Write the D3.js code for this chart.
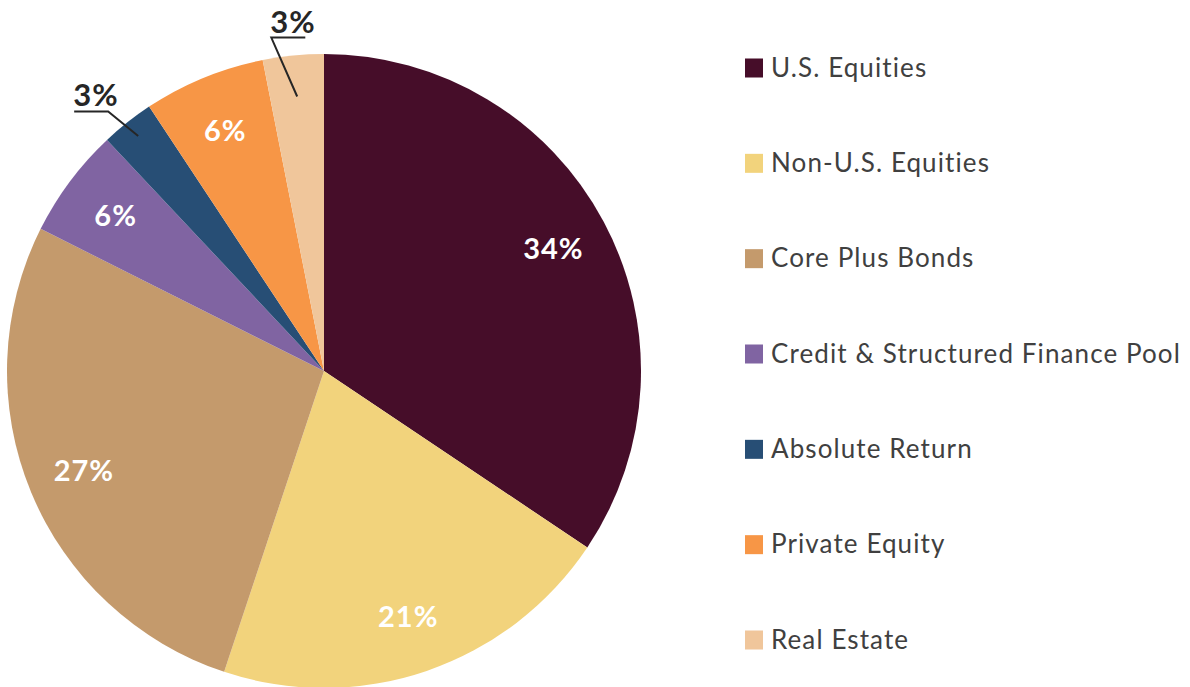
<!DOCTYPE html>
<html>
<head>
<meta charset="utf-8">
<script src="https://cdn.jsdelivr.net/npm/d3@7"></script>
<style>
  body { margin: 0; background: #fff; }
  svg { display: block; }
</style>
</head>
<body>
<svg id="chart" width="1190" height="687"></svg>
<script>
// slices, clockwise from 12 o'clock
const categories = ["U.S. Equities", "Non-U.S. Equities", "Core Plus Bonds",
  "Credit & Structured Finance Pool", "Absolute Return", "Private Equity", "Real Estate"];
const shares = [34.4, 20.7, 27.3, 5.6, 2.7, 6.2, 3.1];
const colors = ["#460d29", "#f2d37c", "#c49a6c", "#8064a2", "#274e75", "#f79646", "#f0c69b"];

// labels that sit outside the pie with a leader line
const outside = {"Absolute Return": {shift: -1.4, dir: -1}, "Real Estate": {shift: -3.4, dir: 1}};

const width = 1190, height = 687;
const cx = 324, cy = 371, radius = 317;

const svg = d3.select("#chart");
const g = svg.append("g").attr("transform", `translate(${cx},${cy})`);

const data = categories.map((c, i) => ({name: c, value: shares[i], color: colors[i]}));

const pie = d3.pie().sort(null).value(d => d.value);
const arcs = pie(data);
const arc = d3.arc().innerRadius(0).outerRadius(radius);

g.selectAll("path.slice")
  .data(arcs)
  .join("path")
  .attr("class", "slice")
  .attr("d", arc)
  .attr("fill", d => d.data.color);

const polar = (ang, r) => [Math.sin(ang) * r, -Math.cos(ang) * r];
const fmt = v => Math.round(v) + "%";

// inside labels
const labelArc = d3.arc().innerRadius(radius * 0.82).outerRadius(radius * 0.82);
g.selectAll("text.inside")
  .data(arcs.filter(d => !outside[d.data.name]))
  .join("text")
  .attr("class", "inside")
  .attr("transform", d => `translate(${labelArc.centroid(d)})`)
  .attr("text-anchor", "middle")
  .attr("dy", "0.36em")
  .attr("fill", "#fff")
  .attr("font-family", "Lato, 'Open Sans', sans-serif")
  .attr("font-weight", 700)
  .attr("font-size", 29)
  .attr("letter-spacing", 1)
  .text(d => fmt(d.data.value));

// outside labels with leader lines
arcs.filter(d => outside[d.data.name]).forEach(d => {
  const o = outside[d.data.name];
  const mid = (d.startAngle + d.endAngle) / 2;
  const p0 = polar(mid, radius * (o.dir < 0 ? 0.945 : 0.87));
  const p1 = polar(mid + o.shift * Math.PI / 180, radius * 1.065);
  const hx = p1[0] + o.dir * 34;
  g.append("polyline")
    .attr("points", [p0, p1, [hx, p1[1]]].map(p => p.join(",")).join(" "))
    .attr("fill", "none")
    .attr("stroke", "#262626")
    .attr("stroke-width", 2);
  g.append("text")
    .attr("x", Math.min(p1[0], hx) - 1)
    .attr("y", p1[1] - 5)
    .attr("fill", "#262626")
    .attr("font-family", "Lato, 'Open Sans', sans-serif")
    .attr("font-weight", 700)
    .attr("font-size", 31)
    .attr("letter-spacing", 1)
    .text(fmt(d.data.value));
});

// legend
const legendY = d3.scalePoint().domain(categories).range([68, 640]);
const legend = svg.append("g").selectAll("g")
  .data(data)
  .join("g")
  .attr("transform", d => `translate(745,${legendY(d.name)})`);
legend.append("rect")
  .attr("x", 0).attr("y", -9.5)
  .attr("width", 18).attr("height", 19)
  .attr("fill", d => d.color);
legend.append("text")
  .attr("x", 26)
  .attr("y", 8.5)
  .attr("fill", "#404040")
  .attr("font-family", "Lato, 'Open Sans', sans-serif")
  .attr("font-size", 26)
  .attr("letter-spacing", 1.1)
  .text(d => d.name);
</script>
</body>
</html>
